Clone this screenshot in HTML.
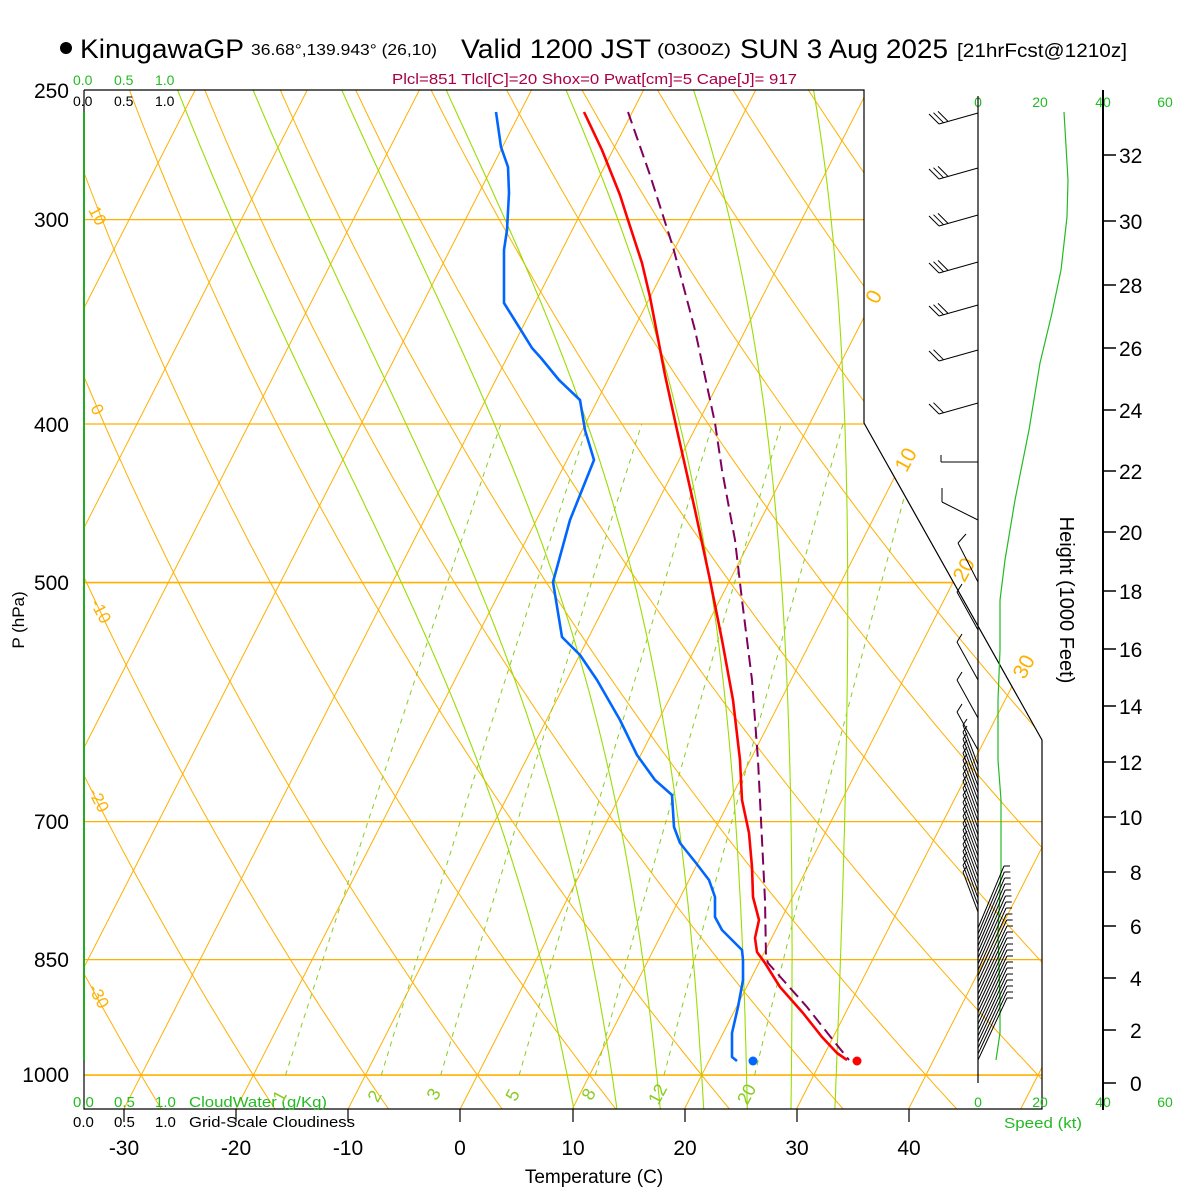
<!DOCTYPE html>
<html><head><meta charset="utf-8">
<style>
html,body{margin:0;padding:0;background:#fff;}
svg{display:block;font-family:"Liberation Sans",Arial,sans-serif;}
</style></head>
<body>
<svg id="s" width="1200" height="1200" viewBox="0 0 1200 1200" xmlns="http://www.w3.org/2000/svg">
<rect width="1200" height="1200" fill="#fff"/>
<defs><clipPath id="cp"><polygon points="84,90 864,90 864,423 1042,740 1042,1109 84,1109"/></clipPath></defs>
<g id="bg" clip-path="url(#cp)"></g>
<g id="fg"></g>

<polyline points="84,90 864,90 864,423 1042,740 1042,1109 84,1109 84,1060" fill="none" stroke="#000" stroke-width="1.2"/>
<line x1="84" y1="90" x2="84" y2="112" stroke="#000" stroke-width="1.2"/>
<line x1="84" y1="112" x2="84" y2="1060" stroke="#22aa22" stroke-width="2"/>
<g stroke="#000" stroke-width="1.2">
<line x1="124" y1="1109" x2="124" y2="1122"/><line x1="236" y1="1109" x2="236" y2="1122"/><line x1="348" y1="1109" x2="348" y2="1122"/><line x1="460" y1="1109" x2="460" y2="1122"/><line x1="573" y1="1109" x2="573" y2="1122"/><line x1="685" y1="1109" x2="685" y2="1122"/><line x1="797" y1="1109" x2="797" y2="1122"/><line x1="909" y1="1109" x2="909" y2="1122"/>
</g>

<circle cx="66" cy="48" r="6" fill="#000"/>
<text x="80" y="58" font-size="27" textLength="164" lengthAdjust="spacingAndGlyphs">KinugawaGP</text>
<text x="251" y="55" font-size="16" textLength="186" lengthAdjust="spacingAndGlyphs">36.68°,139.943° (26,10)</text>
<text x="461" y="58" font-size="27" textLength="190" lengthAdjust="spacingAndGlyphs">Valid 1200 JST</text>
<text x="657" y="55" font-size="17" textLength="74" lengthAdjust="spacingAndGlyphs">(0300Z)</text>
<text x="740" y="58" font-size="27" textLength="208" lengthAdjust="spacingAndGlyphs">SUN 3 Aug 2025</text>
<text x="957" y="57" font-size="19" textLength="170" lengthAdjust="spacingAndGlyphs">[21hrFcst@1210z]</text>
<text x="392" y="84" font-size="15" fill="#aa0044" textLength="405" lengthAdjust="spacingAndGlyphs">Plcl=851 Tlcl[C]=20 Shox=0 Pwat[cm]=5 Cape[J]= 917</text>

<g font-size="14" fill="#22bb22">
<text x="73" y="85">0.0</text><text x="114" y="85">0.5</text><text x="155" y="85">1.0</text>
</g>
<g font-size="14" fill="#000">
<text x="73" y="106">0.0</text><text x="114" y="106">0.5</text><text x="155" y="106">1.0</text>
</g>

<g font-size="21" text-anchor="end">
<text x="69" y="98">250</text>
<text x="69" y="227">300</text>
<text x="69" y="432">400</text>
<text x="69" y="590">500</text>
<text x="69" y="829">700</text>
<text x="69" y="967">850</text>
<text x="69" y="1082">1000</text>
</g>
<text transform="translate(24,620) rotate(-90)" font-size="17" text-anchor="middle">P (hPa)</text>

<g font-size="15" fill="#22bb22">
<text x="73" y="1107">0.0</text><text x="114" y="1107">0.5</text><text x="155" y="1107">1.0</text>
<text x="189" y="1107" textLength="138" lengthAdjust="spacingAndGlyphs">CloudWater (g/Kg)</text>
</g>
<g font-size="15" fill="#000">
<text x="73" y="1127">0.0</text><text x="114" y="1127">0.5</text><text x="155" y="1127">1.0</text>
<text x="189" y="1127" textLength="166" lengthAdjust="spacingAndGlyphs">Grid-Scale Cloudiness</text>
</g>
<g id="tt" font-size="21" text-anchor="middle">
<text x="124" y="1155">-30</text><text x="236" y="1155">-20</text><text x="348" y="1155">-10</text>
<text x="460" y="1155">0</text><text x="573" y="1155">10</text><text x="685" y="1155">20</text>
<text x="797" y="1155">30</text><text x="909" y="1155">40</text>
</g>
<text x="594" y="1183" font-size="19" text-anchor="middle">Temperature (C)</text>

<g font-size="17" fill="#ffb000">
<text transform="translate(88,210) rotate(62)">10</text>
<text transform="translate(90,408) rotate(62)">0</text>
<text transform="translate(90,603) rotate(62)">-10</text>
<text transform="translate(88,792) rotate(62)">-20</text>
<text transform="translate(88,988) rotate(62)">-30</text>
</g>
<g font-size="21" fill="#ffb000" text-anchor="middle">
<text transform="translate(880,300) rotate(-62)">0</text>
<text transform="translate(912,463) rotate(-62)">10</text>
<text transform="translate(970,573) rotate(-62)">20</text>
<text transform="translate(1030,670) rotate(-62)">30</text>
</g>
<g font-size="18" fill="#88cc22" text-anchor="middle">
<text transform="translate(285,1099) rotate(-62)">1</text>
<text transform="translate(380,1099) rotate(-62)">2</text>
<text transform="translate(439,1097) rotate(-62)">3</text>
<text transform="translate(518,1098) rotate(-62)">5</text>
<text transform="translate(594,1097) rotate(-62)">8</text>
<text transform="translate(663,1097) rotate(-62)">12</text>
<text transform="translate(752,1097) rotate(-62)">20</text>
</g>

<g font-size="14" fill="#22bb22" text-anchor="middle">
<text x="978" y="107">0</text><text x="1040" y="107">20</text><text x="1103" y="107">40</text><text x="1165" y="107">60</text>
<text x="978" y="1107">0</text><text x="1040" y="1107">20</text><text x="1103" y="1107">40</text><text x="1165" y="1107">60</text>
</g>
<text x="1004" y="1128" font-size="15" fill="#22bb22" textLength="78" lengthAdjust="spacingAndGlyphs">Speed (kt)</text>
<line x1="978" y1="96" x2="978" y2="1083" stroke="#000" stroke-width="1.2"/>
<line x1="1103" y1="90" x2="1103" y2="1110" stroke="#000" stroke-width="2"/>
<g id="ht" font-size="21"></g>
<text transform="translate(1060,600) rotate(90)" font-size="20" text-anchor="middle">Height (1000 Feet)</text>
<polyline fill="none" stroke="#22bb22" stroke-width="1.2" points="1064,112 1068,180 1067,217 1061,270 1052,313 1040,363 1029,430 1015,500 1005,560 1000,600 1000,650 998,700 998,760 1001,800 1001,870 998,933 1000,1000 1000,1033 996,1060"/>
<g id="barbs" stroke="#000" stroke-width="1" fill="none"></g>

<polyline fill="none" stroke="#0066ff" stroke-width="2.6" stroke-linejoin="round" points="496,112 501,147 508,167 509,193 507,230 504,250 504,303 519,327 532,348 541,358 559,380 580,400 585,430 594,460 582,490 570,520 553,582 562,637 580,655 597,680 620,720 637,755 655,780 672,795 674,827 680,843 696,863 709,880 715,897 715,917 722,930 742,950 743,960 743,980 738,1007 732,1033 732,1057 737,1061"/>
<polyline fill="none" stroke="#800060" stroke-width="2" stroke-dasharray="12,6" points="628,112 650,175 673,247 695,330 715,423 722,470 735,540 742,600 752,680 758,760 760,800 765,900 766,957 768,963 807,1007 833,1040 849,1060"/>
<polyline fill="none" stroke="#ff0000" stroke-width="2.6" stroke-linejoin="round" points="584,112 602,150 620,195 627,217 642,263 650,297 665,375 677,430 695,510 710,580 722,640 733,700 740,760 742,800 749,833 752,867 753,897 759,920 755,938 757,952 765,963 780,987 803,1013 822,1037 837,1053 847,1060"/>
<circle cx="857" cy="1061" r="4.5" fill="#ff0000"/>
<circle cx="753" cy="1061" r="4.5" fill="#0066ff"/>
</svg>
<script>
(function(){
var NS="http://www.w3.org/2000/svg";
function yP(p){return 90+710.6*Math.log(p/250);}
function xT(T,y){return 460.2+11.21*T+0.51*(1109-y);}
var bg=document.getElementById('bg');
function line(g,pts,col,w,dash){var e=document.createElementNS(NS,'polyline');e.setAttribute('points',pts.map(function(a){return a[0].toFixed(1)+','+a[1].toFixed(1)}).join(' '));e.setAttribute('fill','none');e.setAttribute('stroke',col);e.setAttribute('stroke-width',w);if(dash)e.setAttribute('stroke-dasharray',dash);g.appendChild(e);}
var OR="#ffb000";
[300,400,700,850].forEach(function(p){var y=yP(p);line(bg,[[84,y],[1100,y]],OR,1.2);});
[500,1000].forEach(function(p){var y=yP(p);line(bg,[[84,y],[1100,y]],OR,1.6);});
for(var T=-120;T<=60;T+=10){line(bg,[[xT(T,1109),1109],[xT(T,90),90]],OR,1);}
for(var th=-40;th<=220;th+=10){var pts=[];for(var p=1050;p>=245;p-=10){var Tk=(th+273.15)*Math.pow(p/1000,0.2857)-273.15;var y=yP(p);pts.push([xT(Tk,y),y]);}line(bg,pts,OR,1);}
function Td(e){var l=Math.log(e/6.112);return 243.5*l/(17.67-l);}
[1,2,3,5,8,12,20].forEach(function(w){var pts=[];for(var p=1000;p>=400;p-=10){var e=w*p/(622+w);var y=yP(p);pts.push([xT(Td(e),y),y]);}line(bg,pts,"#88cc22",1,"5,5");});
function es(T){var c=T-273.15;return 6.112*Math.exp(17.67*c/(c+243.5));}
function dTdp(T,p){var e=es(T);var rs=0.622*e/(p-e);var L=2.5e6;return (287*T+L*rs)/(1004+L*L*rs*0.622/(287*T*T))/p;}
[8,12,16,20,24,28,32].forEach(function(tw){var up=[],T=tw+273.15,p;for(p=1000;p>=250;p-=2){var y=yP(p);up.push([xT(T-273.15,y),y]);T-=2*dTdp(T,p);}
var dn=[];T=tw+273.15;for(p=1000;p<=1052;p+=2){var y2=yP(p);dn.unshift([xT(T-273.15,y2),y2]);T+=2*dTdp(T,p);}
line(bg,dn.concat(up),"#99dd00",1.1);});
var ht=document.getElementById('ht');var H={0:1083,2:1030,4:978,6:926,8:872,10:817,12:762,14:706,16:649,18:591,20:532,22:471,24:410,26:348,28:285,30:221,32:155};
for(var k in H){var y=H[k];line(ht,[[1103,y],[1116,y]],"#000",1.5);var t=document.createElementNS(NS,'text');t.setAttribute('x',k<10?1130:1119);t.setAttribute('y',y+8);t.textContent=k;ht.appendChild(t);}
var b=document.getElementById('barbs');
function seg(x1,y1,x2,y2){line(b,[[x1,y1],[x2,y2]],"#000",1);}
[[113,3],[168,3],[215,3],[262,3],[305,3],[350,2],[403,2]].forEach(function(a){var y=a[0];seg(978,y,939,y+11);for(var i=0;i<a[1];i++){var sx=939+i*4.5,sy=y+11-i*1.3;seg(sx,sy,sx-10,sy-10);}});
seg(978,462,941,462);seg(941,462,941,455);
seg(978,520,942,502);seg(942,502,942,488);
seg(978,582,958,543);seg(958,543,966,534);
[630,680,718,750].forEach(function(y){seg(978,y,957,y-38);seg(957,y-38,962,y-46);});
for(var y=765;y<=915;y+=7){seg(978,y,963,y-40);seg(963,y-40,967,y-46);}
for(var y=928;y<=1060;y+=6){var ex=978+26+(y<990?(y-928)*0.05:3),ey=y-62;seg(978,y,ex,ey);seg(ex,ey,ex+6,ey);}
})();
</script>
</body></html>
